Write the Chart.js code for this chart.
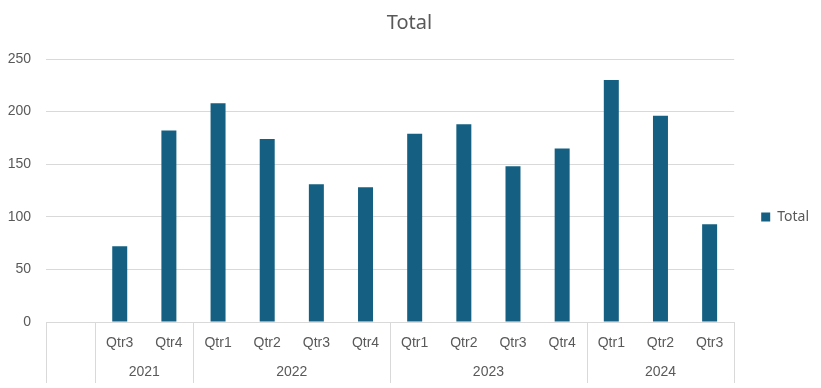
<!DOCTYPE html>
<html>
<head>
<meta charset="utf-8">
<script src="https://cdn.jsdelivr.net/npm/chart.js@4"></script>
<style>
  html, body { margin: 0; padding: 0; background: #fff; }
  #wrap { width: 821px; height: 388px; }
</style>
</head>
<body>
<div id="wrap"><canvas id="myChart" width="821" height="388"></canvas></div>
<script>
// Data
const quarters = ['', 'Qtr3', 'Qtr4', 'Qtr1', 'Qtr2', 'Qtr3', 'Qtr4', 'Qtr1', 'Qtr2', 'Qtr3', 'Qtr4', 'Qtr1', 'Qtr2', 'Qtr3'];
const years = ['', '2021', '2021', '2022', '2022', '2022', '2022', '2023', '2023', '2023', '2023', '2024', '2024', '2024'];
const totals = [null, 72, 182, 208, 174, 131, 128, 179, 188, 148, 165, 230, 196, 93];
const yTicks = [0, 50, 100, 150, 200, 250];

const textColor = '#595959';
const lineColor = '#d9d9d9';
const axisFont = '14px "Liberation Sans", Arial, sans-serif';

// Two-level category axis (quarters over years), drawn under the plot
const groupedAxis = {
  id: 'groupedAxis',
  afterDraw(chart) {
    const {ctx, chartArea, scales} = chart;
    const x = scales.x;
    const step = (chartArea.right - chartArea.left) / quarters.length;
    const top = chartArea.bottom;
    const bottom = top + 61;
    const rowQ = top + 21;
    const rowY = top + 50;

    ctx.save();
    ctx.strokeStyle = lineColor;
    ctx.lineWidth = 1;

    // axis line
    ctx.beginPath();
    ctx.moveTo(chartArea.left, Math.round(top) + 0.5);
    ctx.lineTo(chartArea.right, Math.round(top) + 0.5);
    ctx.stroke();

    // group separators
    const edges = [0];
    for (let i = 1; i < years.length; i++) {
      if (years[i] !== years[i - 1]) edges.push(i);
    }
    edges.push(years.length);
    edges.forEach(i => {
      const px = Math.round(x.getPixelForValue(i) - step / 2) + 0.5;
      ctx.beginPath();
      ctx.moveTo(px, top);
      ctx.lineTo(px, bottom);
      ctx.stroke();
    });

    ctx.fillStyle = textColor;
    ctx.font = axisFont;
    ctx.textAlign = 'center';
    ctx.textBaseline = 'middle';

    quarters.forEach((q, i) => {
      if (q) ctx.fillText(q, x.getPixelForValue(i), rowQ);
    });

    for (let g = 0; g < edges.length - 1; g++) {
      const a = edges[g], b = edges[g + 1] - 1;
      if (!years[a]) continue;
      const cx = (x.getPixelForValue(a) + x.getPixelForValue(b)) / 2;
      ctx.fillText(years[a], cx, rowY);
    }
    ctx.restore();
  }
};

const data = {
  labels: quarters.map((q, i) => (years[i] + ' ' + q).trim()),
  datasets: [{
    label: 'Total',
    data: totals,
    backgroundColor: '#156082',
    borderWidth: 0,
    barPercentage: 1,
    categoryPercentage: 0.305
  }]
};

const config = {
  type: 'bar',
  data: data,
  options: {
    responsive: false,
    animation: false,
    layout: {
      padding: { left: 0, right: 2, top: 0, bottom: 14 }
    },
    plugins: {
      title: {
        display: true,
        text: 'Total',
        color: textColor,
        font: { family: '"Noto Sans", sans-serif', size: 20, weight: 'normal' },
        padding: { top: 11, bottom: 24 }
      },
      legend: {
        position: 'right',
        // empty legend title only pushes the entry down to mid height
        title: {
          display: true,
          text: ' ',
          font: { size: 10 },
          padding: { top: 48, bottom: 0 }
        },
        labels: {
          boxWidth: 9,
          boxHeight: 9,
          padding: 27,
          color: textColor,
          font: { family: '"Noto Sans", sans-serif', size: 14 }
        }
      },
      tooltip: { enabled: false }
    },
    scales: {
      x: {
        display: true,
        grid: { display: false },
        border: { display: false },
        ticks: { display: false },
        afterFit(scale) { scale.height = 52; }
      },
      y: {
        min: 0,
        max: 250,
        afterBuildTicks(scale) {
          scale.ticks = yTicks.map(v => ({ value: v }));
        },
        afterFit(scale) { scale.width = 46; },
        border: { display: false },
        grid: { color: lineColor, drawTicks: false },
        ticks: {
          padding: 15,
          color: textColor,
          font: { family: '"Liberation Sans", Arial, sans-serif', size: 14 }
        }
      }
    }
  },
  plugins: [groupedAxis]
};

var myChart = new Chart(document.getElementById('myChart'), config);
</script>
</body>
</html>
